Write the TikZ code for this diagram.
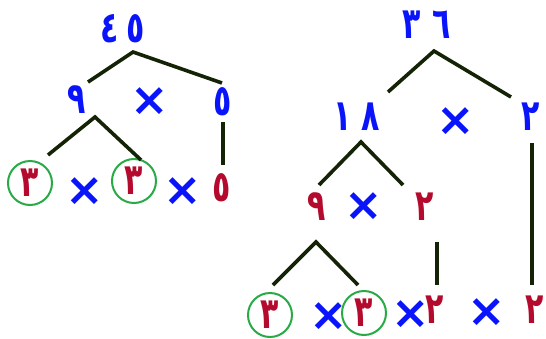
\documentclass[tikz,border=0pt]{standalone}
\usepackage{fontspec}
\newfontfamily\arabicfont[Script=Arabic]{DejaVu Sans}
\newfontfamily\symfont{DejaVu Sans}
\definecolor{numblue}{RGB}{10,20,250}
\definecolor{numred}{RGB}{180,10,45}
\definecolor{ringgreen}{RGB}{40,170,70}
\definecolor{linedark}{RGB}{20,35,5}
\tikzset{
  bluenum/.style={text=numblue, inner sep=0pt, font=\arabicfont\bfseries\fontsize{30}{30}\selectfont, yscale=1.45, transform shape},
  rednum/.style={text=numred, inner sep=0pt, font=\arabicfont\bfseries\fontsize{30}{30}\selectfont, yscale=1.45, transform shape},
  timesign/.style={text=numblue, inner sep=0pt, font=\symfont\bfseries\fontsize{30}{30}\selectfont, scale=1.53, transform shape},
  ring/.style={draw=ringgreen, line width=2pt, fill=none},
  branch/.style={draw=linedark, line width=3.6pt}
}
\begin{document}
\begin{tikzpicture}[x=1pt,y=-1pt]
\useasboundingbox (0,0) rectangle (546,338);
% ---- left tree: 45
\node[bluenum] (n45) at (123,29) {٤\hspace{8pt}٥};
\node[bluenum] (n9a) at (77,100) {٩};
\node[timesign] (xa) at (150,102) {×};
\node[bluenum] (n5a) at (223,102) {٥};
\node[rednum] (n3a) at (30,183) {٣};
\node[timesign] (xb) at (85,192) {×};
\node[rednum] (n3b) at (134,181) {٣};
\node[timesign] (xc) at (183,192) {×};
\node[rednum] (n5b) at (222,188) {٥};
\draw[ring] (n3a.center) circle[radius=22pt];
\draw[ring] (n3b.center) circle[radius=22pt];
\coordinate (a1) at (133,52);
\coordinate (a1l) at (88,82);
\coordinate (a1r) at (222,83);
\coordinate (a2) at (95,117);
\coordinate (a2l) at (48,155);
\coordinate (a2r) at (141,160);
\coordinate (v1t) at (223,122);
\coordinate (v1b) at (223,165);
\draw[branch] (a1l) -- (a1) -- (a1r);
\draw[branch] (a2l) -- (a2) -- (a2r);
\draw[branch] (v1t) -- (v1b);
% ---- right tree: 36
\node[bluenum] (n36) at (427,25) {٣\hspace{12pt}٦};
\node[bluenum] (n18) at (357,117) {١\hspace{10pt}٨};
\node[timesign] (xd) at (456,122) {×};
\node[bluenum] (n2a) at (531,117) {٢};
\node[rednum] (n9b) at (317,207) {٩};
\node[timesign] (xe) at (364,207) {×};
\node[rednum] (n2b) at (425,207) {٢};
\node[rednum] (n3c) at (270,315) {٣};
\node[timesign] (xf) at (329,317) {×};
\node[rednum] (n3d) at (364,313) {٣};
\node[timesign] (xg) at (411,315) {×};
\node[rednum] (n2c) at (435,310) {٢};
\node[timesign] (xh) at (487,313) {×};
\node[rednum] (n2d) at (535,310) {٢};
\draw[ring] (n3c.center) circle[radius=22pt];
\draw[ring] (n3d.center) circle[radius=22pt];
\coordinate (b1) at (434,51);
\coordinate (b1l) at (388,92);
\coordinate (b1r) at (511,97);
\coordinate (b2) at (361,142);
\coordinate (b2l) at (319,185);
\coordinate (b2r) at (403,185);
\coordinate (b3) at (316,242);
\coordinate (b3l) at (273,285);
\coordinate (b3r) at (358,285);
\coordinate (v2t) at (532,143);
\coordinate (v2b) at (532,285);
\coordinate (v3t) at (437,242);
\coordinate (v3b) at (437,285);
\draw[branch] (b1l) -- (b1) -- (b1r);
\draw[branch] (b2l) -- (b2) -- (b2r);
\draw[branch] (b3l) -- (b3) -- (b3r);
\draw[branch] (v2t) -- (v2b);
\draw[branch] (v3t) -- (v3b);
\end{tikzpicture}
\end{document}
